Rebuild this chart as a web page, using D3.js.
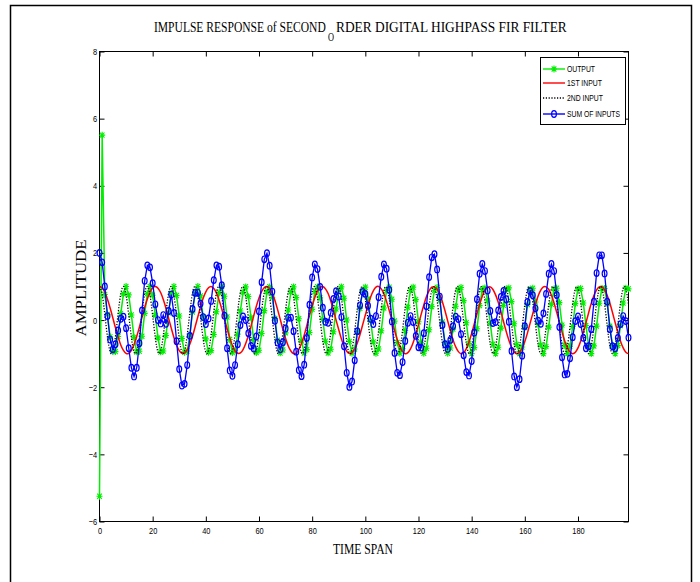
<!DOCTYPE html>
<html>
<head>
<meta charset="utf-8">
<script src="https://cdn.jsdelivr.net/npm/d3@7"></script>
<style>
  body { margin: 0; background: #fff; }
  svg { display: block; }
</style>
</head>
<body>
<svg id="chart" width="700" height="582"></svg>
<script>
// ---- data -------------------------------------------------------------
const xTicks = [0, 20, 40, 60, 80, 100, 120, 140, 160, 180];
const yTicks = [-6, -4, -2, 0, 2, 4, 6, 8];
const seriesNames = ["OUTPUT", "1ST INPUT", "2ND INPUT", "SUM OF INPUTS"];

// 1st input, samples n = 0..199
const firstInput = [
  1.00, 0.96, 0.83, 0.62, 0.36, 0.07, -0.23, -0.50, -0.74, -0.90, -0.99, -0.99, -0.90, -0.73, -0.49, -0.21, 0.09, 0.38, 0.63, 0.83, 0.96,
  1.00, 0.95, 0.82, 0.61, 0.35, 0.05, -0.24, -0.52, -0.75, -0.91, -0.99, -0.98, -0.89, -0.71, -0.48, -0.19, 0.10, 0.39, 0.65, 0.84, 0.96,
  1.00, 0.94, 0.81, 0.59, 0.33, 0.04, -0.26, -0.53, -0.76, -0.92, -0.99, -0.98, -0.88, -0.70, -0.46, -0.18, 0.12, 0.41, 0.66, 0.85, 0.97,
  1.00, 0.94, 0.80, 0.58, 0.31, 0.02, -0.28, -0.55, -0.77, -0.92, -1.00, -0.98, -0.87, -0.69, -0.45, -0.16, 0.14, 0.42, 0.67, 0.86, 0.97,
  1.00, 0.93, 0.79, 0.57, 0.30, 0.00, -0.29, -0.56, -0.78, -0.93, -1.00, -0.97, -0.86, -0.68, -0.43, -0.14, 0.15, 0.44, 0.69, 0.87, 0.98,
  1.00, 0.93, 0.78, 0.55, 0.28, -0.01, -0.31, -0.58, -0.79, -0.94, -1.00, -0.97, -0.86, -0.67, -0.42, -0.13, 0.17, 0.45, 0.70, 0.88, 0.98,
  0.99, 0.92, 0.76, 0.54, 0.27, -0.03, -0.32, -0.59, -0.80, -0.94, -1.00, -0.97, -0.85, -0.65, -0.40, -0.11, 0.19, 0.47, 0.71, 0.89, 0.98,
  0.99, 0.91, 0.75, 0.53, 0.25, -0.05, -0.34, -0.60, -0.81, -0.95, -1.00, -0.96, -0.84, -0.64, -0.38, -0.09, 0.20, 0.48, 0.72, 0.89, 0.99,
  0.99, 0.91, 0.74, 0.51, 0.23, -0.06, -0.36, -0.62, -0.82, -0.95, -1.00, -0.96, -0.83, -0.63, -0.37, -0.08, 0.22, 0.50, 0.73, 0.90, 0.99,
  0.99, 0.90, 0.73, 0.50, 0.22, -0.08, -0.37, -0.63, -0.83, -0.96, -1.00
];

// 2nd input, samples n = 0..199
const secondInput = [
  1.00, 0.76, 0.17, -0.50, -0.94, -0.94, -0.49, 0.19, 0.78,
  1.00, 0.75, 0.15, -0.52, -0.95, -0.93, -0.48, 0.20, 0.79,
  1.00, 0.74, 0.14, -0.53, -0.95, -0.92, -0.46, 0.22, 0.80,
  1.00, 0.73, 0.12, -0.55, -0.96, -0.92, -0.45, 0.24, 0.81,
  1.00, 0.72, 0.10, -0.56, -0.96, -0.91, -0.43, 0.25, 0.82,
  1.00, 0.71, 0.09, -0.58, -0.97, -0.90, -0.42, 0.27, 0.83,
  0.99, 0.70, 0.07, -0.59, -0.97, -0.90, -0.40, 0.28, 0.84,
  0.99, 0.68, 0.05, -0.60, -0.98, -0.89, -0.38, 0.30, 0.84,
  0.99, 0.67, 0.04, -0.62, -0.98, -0.88, -0.37, 0.32, 0.85,
  0.99, 0.66, 0.02, -0.63, -0.98, -0.87, -0.35, 0.33, 0.86,
  0.99, 0.65, 0.00, -0.64, -0.99, -0.86, -0.34, 0.35, 0.87,
  0.98, 0.63, -0.01, -0.65, -0.99, -0.86, -0.32, 0.36, 0.88,
  0.98, 0.62, -0.03, -0.67, -0.99, -0.85, -0.31, 0.38, 0.89,
  0.98, 0.61, -0.05, -0.68, -0.99, -0.84, -0.29, 0.40, 0.89,
  0.97, 0.59, -0.06, -0.69, -0.99, -0.83, -0.27, 0.41, 0.90,
  0.97, 0.58, -0.08, -0.70, -1.00, -0.82, -0.26, 0.43, 0.91,
  0.96, 0.57, -0.10, -0.72, -1.00, -0.81, -0.24, 0.44, 0.92,
  0.96, 0.55, -0.11, -0.73, -1.00, -0.80, -0.22, 0.46, 0.92,
  0.95, 0.54, -0.13, -0.74, -1.00, -0.79, -0.21, 0.47, 0.93,
  0.95, 0.52, -0.15, -0.75, -1.00, -0.78, -0.19, 0.49, 0.93,
  0.94, 0.51, -0.16, -0.76, -1.00, -0.77, -0.18, 0.50, 0.94,
  0.94, 0.49, -0.18, -0.77, -1.00, -0.76, -0.16, 0.51, 0.95,
  0.93, 0.48
];

// sum of both inputs, samples n = 0..199
const sumOfInputs = [
  2.00, 1.72, 1.00, 0.12, -0.58, -0.87, -0.72, -0.31, 0.04,
  0.10, -0.24, -0.84, -1.42, -1.68, -1.42, -0.69, 0.29, 1.17, 1.63, 1.57, 1.10,
  0.47, 0.00, -0.10, 0.15, -0.11, 0.27, 0.76, 0.21, -0.63,
  -1.46, -1.95, -1.90, -1.34, -0.47, 0.33, 0.81, 0.82, 0.49, 0.09, -0.12, 0.05,
  0.57, 1.19, 1.63, 1.59, 1.04, 0.13, -0.84, -1.50, -1.66, -1.34, -0.72, -0.15,
  0.11, 0.00, -0.39, -0.77, -0.85, -0.49, 0.26, 1.13, 1.81,
  1.99, 1.62, 0.85, -0.02, -0.67, -0.87, -0.66, -0.25, 0.07,
  0.07, -0.33, -0.94, -1.49, -1.67, -1.33, -0.53, 0.46, 1.27, 1.66, 1.52, 0.99,
  0.37, -0.05, -0.08, 0.22, 0.63, 0.86,
  0.70, 0.09, -0.78, -1.57, -1.99, -1.83, -1.20, -0.33, 0.44, 0.84, 0.78, 0.43, 0.04, -0.12, 0.12,
  0.68, 1.29, 1.66, 1.53, 0.90, -0.04, -0.98, -1.57, -1.64, -1.25, -0.62, -0.08,
  0.12, -0.06, -0.47, -0.81, -0.82, -0.39, 0.41, 1.28, 1.87,
  1.96, 1.51, 0.70, -0.15, -0.72, -0.86, -0.59, -0.18, 0.10,
  0.03, -0.42, -1.05, -1.55, -1.65, -1.22, -0.37, 0.62, 1.38, 1.67, 1.46, 0.88,
  0.27, -0.09, -0.06, 0.29, 0.69, 0.87,
  0.62, -0.05, -0.92, -1.68, -2.00, -1.76, -1.06, -0.18, 0.54, 0.86, 0.74, 0.35, -0.02, -0.11, 0.20,
  0.78, 1.38, 1.67, 1.46, 0.75, -0.21, -1.11, -1.62, -1.60, -1.14, -0.51, -0.03,
  0.11, -0.12, -0.53, -0.84, -0.78, -0.27, 0.55, 1.40, 1.93,
  1.93, 1.39, 0.55, -0.27, -0.78, -0.84, -0.53, -0.12, 0.12, -0.03, -0.52
];

// filter output, samples n = 0..199
const output = [
  -5.25, 5.51,
  0.76, 0.17, -0.50, -0.94, -0.94, -0.49, 0.19, 0.78,
  1.00, 0.75, 0.15, -0.52, -0.95, -0.93, -0.48, 0.20, 0.79,
  1.00, 0.74, 0.14, -0.53, -0.95, -0.92, -0.46, 0.22, 0.80,
  1.00, 0.73, 0.12, -0.55, -0.96, -0.92, -0.45, 0.24, 0.81,
  1.00, 0.72, 0.10, -0.56, -0.96, -0.91, -0.43, 0.25, 0.82,
  1.00, 0.71, 0.09, -0.58, -0.97, -0.90, -0.42, 0.27, 0.83,
  0.99, 0.70, 0.07, -0.59, -0.97, -0.90, -0.40, 0.28, 0.84,
  0.99, 0.68, 0.05, -0.60, -0.98, -0.89, -0.38, 0.30, 0.84,
  0.99, 0.67, 0.04, -0.62, -0.98, -0.88, -0.37, 0.32, 0.85,
  0.99, 0.66, 0.02, -0.63, -0.98, -0.87, -0.35, 0.33, 0.86,
  0.99, 0.65, 0.00, -0.64, -0.99, -0.86, -0.34, 0.35, 0.87,
  0.98, 0.63, -0.01, -0.65, -0.99, -0.86, -0.32, 0.36, 0.88,
  0.98, 0.62, -0.03, -0.67, -0.99, -0.85, -0.31, 0.38, 0.89,
  0.98, 0.61, -0.05, -0.68, -0.99, -0.84, -0.29, 0.40, 0.89,
  0.97, 0.59, -0.06, -0.69, -0.99, -0.83, -0.27, 0.41, 0.90,
  0.97, 0.58, -0.08, -0.70, -1.00, -0.82, -0.26, 0.43, 0.91,
  0.96, 0.57, -0.10, -0.72, -1.00, -0.81, -0.24, 0.44, 0.92,
  0.96, 0.55, -0.11, -0.73, -1.00, -0.80, -0.22, 0.46, 0.92,
  0.95, 0.54, -0.13, -0.74, -1.00, -0.79, -0.21, 0.47, 0.93,
  0.95, 0.52, -0.15, -0.75, -1.00, -0.78, -0.19, 0.49, 0.93,
  0.94, 0.51, -0.16, -0.76, -1.00, -0.77, -0.18, 0.50, 0.94,
  0.94, 0.49, -0.18, -0.77, -1.00, -0.76, -0.16, 0.51, 0.95,
  0.93
];

// ---- drawing -----------------------------------------------------------
const W = 700, H = 582;
const svg = d3.select("#chart");
const GREEN = "#00ee00", RED = "#ff0000", BLUE = "#0000ff", BLACK = "#000";
const tickFont = "'Liberation Sans', Arial, sans-serif";
const serif = "'Liberation Serif', 'Times New Roman', serif";

svg.append("rect").attr("width", W).attr("height", H).attr("fill", "#fff");

// figure frame
svg.append("path")
  .attr("d", "M10.5,600V5.5H691.5V600")
  .attr("fill", "none").attr("stroke", "#000").attr("stroke-width", 1.5);

// Narrow text: draw at its natural size, then squeeze it horizontally
// so that it spans `width` pixels (rotation optional, in degrees).
function narrowText(parent, str, px, py, width, opts) {
  const o = Object.assign({ anchor: "start", size: 15, family: serif, rotate: 0 }, opts);
  const g = parent.append("g");
  const t = g.append("text")
    .attr("text-anchor", o.anchor)
    .style("font-family", o.family).style("font-size", o.size + "px")
    .attr("fill", "#000")
    .text(str);
  const s = width / t.node().getComputedTextLength();
  g.attr("transform", `translate(${px},${py}) rotate(${o.rotate}) scale(${s},1)`);
  return g;
}

const x = d3.scaleLinear().domain([0, 199]).range([99.5, 628.5]);
const y = d3.scaleLinear().domain([-6, 8]).range([521.5, 51.5]);

// axes (ticks pointing inward on all four sides)
function styleAxis(g, labels) {
  g.select(".domain").remove();
  g.selectAll(".tick line").attr("stroke", "#000").attr("stroke-width", 1);
  g.selectAll(".tick text")
    .attr("fill", "#000")
    .style("font-family", tickFont)
    .style("font-size", "9.5px");
  if (!labels) g.selectAll(".tick text").remove();
}

svg.append("g").attr("transform", `translate(0,${y(-6)})`)
  .call(d3.axisBottom(x).tickValues(xTicks).tickSize(-5).tickPadding(6).tickFormat(d3.format("d")))
  .call(g => styleAxis(g, true))
  .call(g => g.selectAll(".tick text").attr("transform", "scale(0.78,1)"));

svg.append("g").attr("transform", `translate(0,${y(8)})`)
  .call(d3.axisTop(x).tickValues(xTicks).tickSize(-5))
  .call(g => styleAxis(g, false));

svg.append("g").attr("transform", `translate(${x(0)},0)`)
  .call(d3.axisLeft(y).tickValues(yTicks).tickSize(-5).tickPadding(3).tickFormat(d3.format("d")))
  .call(g => styleAxis(g, true))
  .call(g => g.selectAll(".tick text").attr("transform", "scale(0.78,1)"));

svg.append("g").attr("transform", `translate(${x(199)},0)`)
  .call(d3.axisRight(y).tickValues(yTicks).tickSize(-5))
  .call(g => styleAxis(g, false));

// plot box
svg.append("rect")
  .attr("x", x(0)).attr("y", y(8))
  .attr("width", x(199) - x(0)).attr("height", y(-6) - y(8))
  .attr("fill", "none").attr("stroke", "#000").attr("stroke-width", 1);

// series
const straight = d3.line().x((d, i) => x(i)).y(d => y(d));
const smooth = d3.line().x((d, i) => x(i)).y(d => y(d)).curve(d3.curveNatural);
const starPath = "M-3,0H3M0,-3.4V3.4M-2.3,-2.6L2.3,2.6M-2.3,2.6L2.3,-2.6";

const plot = svg.append("g");

// OUTPUT
plot.append("path").datum(output).attr("d", straight)
  .attr("fill", "none").attr("stroke", GREEN).attr("stroke-width", 1.5);
plot.append("g").selectAll("path").data(output).join("path")
  .attr("transform", (d, i) => `translate(${x(i)},${y(d)})`)
  .attr("d", starPath).attr("fill", "none").attr("stroke", GREEN).attr("stroke-width", 1.1);

// 1ST INPUT
plot.append("path").datum(firstInput).attr("d", smooth)
  .attr("fill", "none").attr("stroke", RED).attr("stroke-width", 1.5);

// 2ND INPUT
plot.append("path").datum(secondInput).attr("d", smooth)
  .attr("fill", "none").attr("stroke", BLACK).attr("stroke-width", 1.3)
  .attr("stroke-dasharray", "1.2,1.6");

// SUM OF INPUTS
plot.append("path").datum(sumOfInputs).attr("d", straight)
  .attr("fill", "none").attr("stroke", BLUE).attr("stroke-width", 1.3);
plot.append("g").selectAll("ellipse").data(sumOfInputs).join("ellipse")
  .attr("cx", (d, i) => x(i)).attr("cy", d => y(d))
  .attr("rx", 2.4).attr("ry", 3.3)
  .attr("fill", "none").attr("stroke", BLUE).attr("stroke-width", 1.2);

// legend
const legend = svg.append("g");
legend.append("rect").attr("x", 540.5).attr("y", 57.5).attr("width", 85).attr("height", 67)
  .attr("fill", "#fff").attr("stroke", "#000").attr("stroke-width", 1);
const legendRows = [
  { name: seriesNames[0], color: GREEN, y: 69, dash: null, marker: "star", w: 28 },
  { name: seriesNames[1], color: RED, y: 83, dash: null, marker: null, w: 35 },
  { name: seriesNames[2], color: BLACK, y: 98, dash: "1.2,1.6", marker: null, w: 36 },
  { name: seriesNames[3], color: BLUE, y: 114, dash: null, marker: "circle", w: 53 }
];
legendRows.forEach(r => {
  legend.append("line").attr("x1", 543).attr("x2", 565).attr("y1", r.y).attr("y2", r.y)
    .attr("stroke", r.color).attr("stroke-width", 1.4)
    .attr("stroke-dasharray", r.dash);
  if (r.marker === "star") {
    legend.append("path").attr("transform", `translate(554,${r.y})`).attr("d", starPath)
      .attr("fill", "none").attr("stroke", r.color).attr("stroke-width", 1.1);
  } else if (r.marker === "circle") {
    legend.append("ellipse").attr("cx", 554).attr("cy", r.y).attr("rx", 2.4).attr("ry", 3.3)
      .attr("fill", "none").attr("stroke", r.color).attr("stroke-width", 1.2);
  }
  narrowText(legend, r.name, 567, r.y + 3, r.w, { size: 9, family: tickFont });
});

// title, with the O of ORDER set as a subscript
narrowText(svg, "IMPULSE RESPONSE of SECOND", 154, 32, 172);
narrowText(svg, "O", 328, 41, 6, { size: 12 });
narrowText(svg, "RDER DIGITAL HIGHPASS FIR FILTER", 336, 32, 231);

// axis titles
narrowText(svg, "TIME SPAN", 363, 554, 60, { anchor: "middle", size: 14 });
narrowText(svg, "AMPLITUDE", 86, 288, 97, { anchor: "middle", size: 14, rotate: -90 });
</script>
</body>
</html>
